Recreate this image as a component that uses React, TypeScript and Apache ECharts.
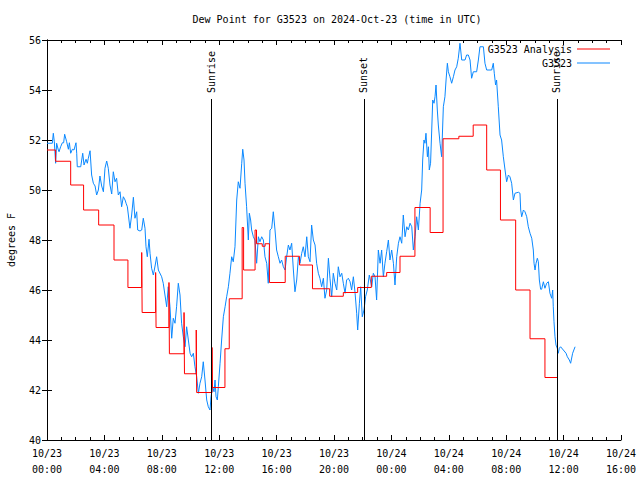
import React, { useEffect, useRef } from "react";
import * as echarts from "echarts";

const FONT = "'DejaVu Sans Mono', 'Liberation Mono', monospace";

// hours since 2024-10-23 00:00 UTC
const xTickHours = [0, 4, 8, 12, 16, 20, 24, 28, 32, 36, 40];
const yTicks = [40, 42, 44, 46, 48, 50, 52, 54, 56];

const analysisSeries: [number, number][] = [
  [0, 51.6], [0.6, 51.15], [1.65, 50.2], [2.55, 49.2], [3.6, 48.6], [4.67, 47.2],
  [5.64, 46.1], [6.6, 47.5], [6.63, 45.1], [7.57, 46.7], [7.6, 44.5], [8.5, 46.3],
  [8.53, 43.45], [9.55, 45.1], [9.58, 42.65], [10.4, 44.4], [10.43, 41.9], [11.5, 43.7],
  [11.53, 42.1], [12.4, 43.65], [12.7, 45.65], [13.6, 48.5], [13.7, 46.8], [14.5, 48.4],
  [14.6, 47.85], [15.0, 47.75], [15.2, 47.85], [15.5, 46.3], [16.6, 47.35], [17.6, 47.0],
  [18.5, 46.05], [19.7, 45.75], [20.65, 45.9], [21.65, 46.1], [22.6, 46.55], [23.67, 46.7],
  [24.6, 47.35], [25.64, 49.3], [26.7, 48.3], [27.6, 52.05], [28.7, 52.15], [29.7, 52.6],
  [30.64, 50.8], [31.6, 48.8], [32.66, 46.0], [33.66, 44.05], [34.7, 42.5], [35.6, 42.5],
];

const stationSeries: [number, number][] = [
  [0, 51.87], [0.37, 51.87], [0.44, 52.27], [0.51, 51.93], [0.6, 51.07], [0.67, 51.87], [0.79, 51.6], [0.84, 51.53], [0.95, 51.73], [1.07, 51.89], [1.16, 51.89], [1.23, 52.23], [1.37, 51.93], [1.49, 51.63], [1.56, 51.89], [1.65, 51.47], [1.77, 51.63], [1.88, 51.6], [2.02, 51.89], [2.07, 51.47], [2.11, 50.93], [2.35, 50.93], [2.42, 51.2], [2.49, 51.47], [2.58, 51.0], [2.72, 51.23], [2.81, 51.07], [2.88, 51.27], [3.0, 51.57], [3.11, 50.6], [3.23, 50.27], [3.35, 50.16], [3.46, 49.8], [3.58, 50.0], [3.69, 50.56], [3.81, 50.16], [3.93, 49.93], [4.04, 50.87], [4.16, 51.16], [4.27, 50.87], [4.39, 50.2], [4.51, 49.84], [4.62, 50.73], [4.74, 50.33], [4.85, 50.47], [4.97, 49.8], [5.09, 49.93], [5.2, 49.33], [5.32, 49.73], [5.44, 49.6], [5.51, 49.47], [5.6, 49.33], [5.67, 49.0], [5.78, 48.47], [5.9, 49.0], [6.02, 49.71], [6.13, 48.87], [6.25, 49.13], [6.32, 48.4], [6.48, 48.36], [6.6, 48.4], [6.71, 48.87], [6.83, 48.47], [6.9, 47.73], [6.99, 47.33], [7.11, 48.03], [7.18, 47.47], [7.29, 46.87], [7.41, 46.6], [7.53, 46.96], [7.64, 47.33], [7.76, 46.8], [7.99, 46.53],
  [8.1, 46.27], [8.22, 45.8], [8.34, 45.33], [8.45, 46.13], [8.57, 45.33], [8.69, 44.07], [8.8, 44.87], [8.92, 44.67], [9.03, 45.33], [9.15, 46.27], [9.27, 45.8], [9.38, 44.67], [9.5, 44.13], [9.62, 43.73], [9.73, 44.53], [9.85, 44.0], [9.97, 43.47], [10.08, 43.33], [10.2, 43.47], [10.31, 42.93], [10.43, 42.53], [10.55, 41.87], [10.66, 42.27], [10.78, 42.53], [10.89, 43.13], [11.01, 42.4], [11.13, 41.6], [11.24, 41.33], [11.36, 41.2], [11.43, 41.73], [11.54, 42.13], [11.64, 41.93], [11.71, 42.4], [11.78, 41.73], [11.87, 41.6], [11.94, 42.13], [12.06, 43.07], [12.17, 44.0], [12.29, 44.93], [12.41, 45.33], [12.52, 45.73], [12.64, 46.13], [12.75, 46.67],
  [12.87, 47.33], [12.98, 47.13], [13.1, 47.73], [13.22, 49.6], [13.33, 50.33], [13.45, 50.07], [13.57, 51.07], [13.64, 51.63], [13.73, 51.2], [13.8, 50.27], [13.91, 49.33], [14.03, 48.0], [14.1, 49.07], [14.19, 48.8], [14.26, 48.4], [14.38, 48.13], [14.49, 48.0], [14.61, 47.07], [14.73, 48.13], [14.84, 47.93], [14.96, 48.13], [15.08, 48.0], [15.19, 47.33], [15.31, 47.07], [15.42, 46.27], [15.54, 48.4], [15.66, 48.47], [15.77, 49.13], [15.89, 48.4], [16.0, 47.6], [16.12, 47.33], [16.24, 47.07], [16.35, 47.2], [16.47, 46.93], [16.59, 46.8], [16.7, 47.33], [16.82, 47.8], [16.93, 47.6], [17.05, 47.87], [17.17, 46.8], [17.28, 45.93], [17.4, 46.4], [17.52, 47.33], [17.63, 47.07], [17.75, 47.47], [17.86, 47.73], [17.98, 47.33], [18.1, 48.13], [18.21, 47.33], [18.33, 47.13], [18.44, 48.6], [18.56, 48.0], [18.68, 47.8], [18.79, 47.07], [18.91, 46.67], [19.02, 46.47], [19.14, 46.13], [19.26, 46.47], [19.37, 45.67], [19.49, 46.0], [19.61, 47.27], [19.72, 46.47], [19.84, 45.73], [19.95, 46.67], [20.07, 46.27], [20.19, 46.0], [20.3, 46.93], [20.42, 46.53], [20.54, 46.67], [20.65, 46.27], [20.77, 45.87], [20.88, 46.4], [21.0, 46.47], [21.12, 46.33], [21.23, 46.0], [21.35, 46.53], [21.47, 45.87], [21.58, 45.07], [21.65, 44.4], [21.77, 45.47], [21.86, 46.13], [21.97, 44.93], [22.09, 45.2], [22.2, 45.73], [22.32, 46.0], [22.46, 46.6], [22.63, 46.13], [22.74, 46.67], [22.86, 46.53], [22.97, 45.6], [23.09, 47.6],
  [23.21, 47.07], [23.32, 47.6], [23.44, 46.53], [23.55, 47.07], [23.67, 47.53], [23.79, 48.0], [23.9, 47.2], [24.02, 47.6], [24.14, 47.07], [24.25, 46.2], [24.37, 47.33], [24.49, 47.87], [24.6, 48.13], [24.72, 47.87], [24.83, 49.0], [24.95, 48.13], [25.07, 48.53], [25.18, 48.4], [25.3, 48.67], [25.42, 48.53], [25.53, 47.6], [25.65, 48.13], [25.76, 48.93], [25.88, 48.4], [26.0, 49.47], [26.11, 50.0], [26.18, 51.2], [26.27, 52.0], [26.34, 51.87], [26.41, 52.27], [26.51, 51.33], [26.58, 51.73], [26.64, 50.8], [26.73, 51.07], [26.81, 52.4], [26.88, 53.6], [26.97, 53.47], [27.04, 53.73], [27.11, 54.2], [27.2, 53.2], [27.27, 52.6], [27.39, 51.87], [27.5, 51.33], [27.62, 53.33], [27.73, 53.73], [27.81, 54.4], [27.9, 55.07], [27.97, 54.73], [28.08, 54.53], [28.2, 54.27], [28.32, 54.53], [28.43, 54.8], [28.55, 54.93], [28.66, 55.27], [28.78, 55.87], [28.9, 55.2], [29.13, 55.2], [29.24, 55.4], [29.36, 55.4], [29.48, 55.2], [29.59, 54.47], [29.71, 54.73], [29.94, 54.73], [30.06, 55.2], [30.17, 55.73], [30.41, 55.73], [30.52, 55.07], [30.64, 54.8], [30.99, 54.8], [31.1, 55.07], [31.17, 54.67], [31.26, 54.2], [31.33, 54.4], [31.45, 53.33], [31.57, 52.2], [31.68, 52.0], [31.8, 51.33], [31.92, 50.8], [32.03, 50.33], [32.15, 50.6], [32.26, 50.53], [32.38, 50.27], [32.5, 49.6], [32.61, 49.87], [32.85, 49.91], [32.96, 49.87], [33.01, 49.2], [33.08, 48.93], [33.2, 49.2], [33.31, 49.13], [33.43, 48.93], [33.54, 48.53], [33.66, 48.27], [33.78, 48.07], [33.89, 47.6], [33.94, 47.07], [34.01, 46.8], [34.08, 47.07], [34.17, 47.27], [34.24, 47.13], [34.31, 46.4], [34.4, 46.03], [34.47, 46.03], [34.59, 46.33], [34.7, 46.07], [34.82, 46.27], [34.94, 46.33], [35.05, 45.87], [35.17, 45.67], [35.24, 46.0], [35.28, 45.33], [35.33, 44.73], [35.4, 44.13], [35.47, 43.8], [35.56, 43.67], [35.63, 43.47], [35.7, 43.67], [35.79, 43.73], [35.98, 43.6], [36.17, 43.47], [36.26, 43.33], [36.4, 43.2], [36.49, 43.07], [36.63, 43.47], [36.8, 43.73],
];

const sunLabels = ["Sunrise", "Sunset", "Sunrise"];
const sunHours = [11.43, 22.09, 35.54];
const sunLineTop = 53.64;

function fmtX(h: number): string {
  const day = 23 + Math.floor(h / 24);
  const hh = ((h % 24) + 24) % 24;
  return `10/${day}\n${String(hh).padStart(2, "0")}:00`;
}

export default function App() {
  const ref = useRef<HTMLDivElement>(null);
  useEffect(() => {
    if (!ref.current) return;
    const chart = echarts.init(ref.current, null, { renderer: "svg" });
    const axisLine = { show: true, lineStyle: { color: "#000", width: 1 } };
    const tick = { show: true, inside: true, length: 5, lineStyle: { color: "#000" } };
    const minor = { show: true, splitNumber: 4, length: 3, lineStyle: { color: "#000" } };
    const option: any = {
      animation: false,
      backgroundColor: "#fff",
      title: {
        text: "Dew Point for G3523 on 2024-Oct-23 (time in UTC)",
        left: 332,
        textAlign: "center",
        top: 9,
        textStyle: { fontFamily: FONT, fontSize: 10, fontWeight: "normal", color: "#000" },
      },
      legend: {
        orient: "vertical",
        right: 25,
        top: 39,
        align: "right",
        icon: "rect",
        itemWidth: 33,
        itemHeight: 1,
        itemGap: 4,
        textStyle: { fontFamily: FONT, fontSize: 10, color: "#000" },
        data: ["G3523 Analysis", "G3523"],
      },
      grid: { left: 47, right: 19, top: 40, bottom: 40, containLabel: false, outerBoundsMode: "none" },
      xAxis: [
        {
          type: "value",
          min: xTickHours[0],
          max: xTickHours[xTickHours.length - 1],
          interval: 4,
          position: "bottom",
          axisLine,
          axisTick: tick,
          minorTick: minor,
          splitLine: { show: false },
          axisLabel: {
            margin: 5,
            fontFamily: FONT,
            fontSize: 10,
            color: "#000",
            lineHeight: 16,
            formatter: (v: number) => fmtX(v),
          },
        },
        {
          type: "value",
          min: xTickHours[0],
          max: xTickHours[xTickHours.length - 1],
          interval: 4,
          position: "top",
          axisLine,
          axisTick: tick,
          minorTick: minor,
          splitLine: { show: false },
          axisLabel: { show: false },
        },
      ],
      yAxis: [
        {
          type: "value",
          min: yTicks[0],
          max: yTicks[yTicks.length - 1],
          interval: 2,
          position: "left",
          name: "degrees F",
          nameLocation: "middle",
          nameGap: 31,
          nameRotate: 90,
          nameTextStyle: { fontFamily: FONT, fontSize: 10, color: "#000" },
          axisLine,
          axisTick: tick,
          splitLine: { show: false },
          axisLabel: { margin: 6, fontFamily: FONT, fontSize: 10, color: "#000" },
        },
        {
          type: "value",
          min: yTicks[0],
          max: yTicks[yTicks.length - 1],
          interval: 2,
          position: "right",
          axisLine,
          axisTick: tick,
          splitLine: { show: false },
          axisLabel: { show: false },
        },
      ],
      series: [
        {
          name: "G3523 Analysis",
          type: "line",
          step: "end",
          data: analysisSeries,
          symbol: "none",
          lineStyle: { color: "#ff0000", width: 1 },
          itemStyle: { color: "#ff0000" },
          z: 3,
          markLine: {
            silent: true,
            symbol: ["none", "none"],
            label: { show: false },
            lineStyle: { color: "#000", width: 1, type: "solid" },
            data: sunHours.map((h) => [{ coord: [h, yTicks[0]] }, { coord: [h, sunLineTop] }]),
          },
        },
        {
          name: "G3523",
          type: "line",
          data: stationSeries,
          symbol: "none",
          lineStyle: { color: "#0a88ff", width: 1 },
          itemStyle: { color: "#0a88ff" },
          z: 2,
        },
      ],
    };
    chart.setOption(option);
    const graphics = sunHours.map((h, i) => {
      const p = chart.convertToPixel({ gridIndex: 0 }, [h, sunLineTop]) as number[];
      return {
        type: "text",
        x: p[0],
        y: p[1] - 6,
        rotation: Math.PI / 2,
        style: {
          text: sunLabels[i],
          font: `10px ${FONT}`,
          fill: "#000",
          textAlign: "left",
          textVerticalAlign: "middle",
        },
        z: 10,
      };
    });
    chart.setOption({ graphic: graphics });
    return () => chart.dispose();
  }, []);
  return (
    <div
      ref={ref}
      style={{ position: "fixed", left: 0, top: 0, width: 640, height: 480, background: "#fff" }}
    />
  );
}
